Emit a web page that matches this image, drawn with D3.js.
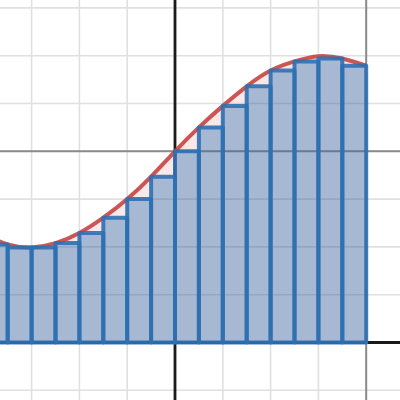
<!DOCTYPE html>
<html lang="en">

<head>
	<meta charset="UTF-8">
	<title>lower sum</title>
	<script src="https://cdn.jsdelivr.net/npm/d3@7/dist/d3.min.js" charset="UTF-8"></script>
	<style>
		html, body { margin: 0; padding: 0; background: #fff; }
		svg { display: block; }
	</style>
</head>

<body>
	<div id="chart"></div>

	<script type="text/javascript">
	// curve f(x) sampled every 0.5 from x = -4 to x = 4
	let curveX = [-4, -3.5, -3, -2.5, -2, -1.5, -1, -0.5, 0, 0.5, 1, 1.5, 2, 2.5, 3, 3.5, 4];
	let curveY = [2.27, 2.05, 1.99, 2.08, 2.29, 2.61, 3.0, 3.47, 4.0, 4.5, 4.95, 5.36, 5.69, 5.88, 5.99, 5.94, 5.79];

	// lower sum rectangles, left edge and height
	let barLeft = [-4, -3.5, -3, -2.5, -2, -1.5, -1, -0.5, 0, 0.5, 1, 1.5, 2, 2.5, 3, 3.5];
	let barHeight = [2.05, 1.99, 1.99, 2.08, 2.29, 2.61, 3.0, 3.47, 4.0, 4.5, 4.95, 5.36, 5.69, 5.88, 5.94, 5.79];
	let barWidth = 0.5;

	// gray reference lines x = 4 and y = 4
	let refX = [4];
	let refY = [4];

	let width = 400,
		height = 400,
		unit = 47.8,
		originX = 175,
		originY = 342.5;

	let x = d3.scaleLinear()
		.domain([-originX / unit, (width - originX) / unit])
		.range([0, width]);
	let y = d3.scaleLinear()
		.domain([-(height - originY) / unit, originY / unit])
		.range([height, 0]);

	let svg = d3.select('#chart')
		.append('svg')
		.attr('width', width)
		.attr('height', height);

	svg.append('rect')
		.attr('width', width)
		.attr('height', height)
		.attr('fill', '#fff');

	// grid
	let gx = d3.range(Math.ceil(x.domain()[0]), Math.floor(x.domain()[1]) + 1);
	let gy = d3.range(Math.ceil(y.domain()[0]), Math.floor(y.domain()[1]) + 1);

	svg.append('g').selectAll('line').data(gx).enter().append('line')
		.attr('x1', d => x(d)).attr('x2', d => x(d))
		.attr('y1', 0).attr('y2', height)
		.attr('stroke', '#e0e0e0')
		.attr('stroke-width', 1.6);
	svg.append('g').selectAll('line').data(gy).enter().append('line')
		.attr('y1', d => y(d)).attr('y2', d => y(d))
		.attr('x1', 0).attr('x2', width)
		.attr('stroke', '#e0e0e0')
		.attr('stroke-width', 1.6);

	// axes
	svg.append('line')
		.attr('x1', 0).attr('x2', width)
		.attr('y1', y(0)).attr('y2', y(0))
		.attr('stroke', '#1a1a1a')
		.attr('stroke-width', 2.8);
	svg.append('line')
		.attr('x1', x(0)).attr('x2', x(0))
		.attr('y1', 0).attr('y2', height)
		.attr('stroke', '#1a1a1a')
		.attr('stroke-width', 2.8);

	// reference lines
	svg.append('g').selectAll('line').data(refY).enter().append('line')
		.attr('y1', d => y(d)).attr('y2', d => y(d))
		.attr('x1', 0).attr('x2', width)
		.attr('stroke', '#8a8a8a')
		.attr('stroke-width', 2);
	svg.append('g').selectAll('line').data(refX).enter().append('line')
		.attr('x1', d => x(d)).attr('x2', d => x(d))
		.attr('y1', 0).attr('y2', height)
		.attr('stroke', '#8a8a8a')
		.attr('stroke-width', 2);

	let pts = curveX.map((d, i) => [d, curveY[i]]);

	// shaded area under the curve
	let area = d3.area()
		.curve(d3.curveNatural)
		.x(d => x(d[0]))
		.y0(y(0))
		.y1(d => y(d[1]));

	svg.append('path')
		.datum(pts)
		.attr('d', area)
		.attr('fill', '#c74440')
		.attr('fill-opacity', 0.12);

	// curve
	let line = d3.line()
		.curve(d3.curveNatural)
		.x(d => x(d[0]))
		.y(d => y(d[1]));

	svg.append('path')
		.datum(pts)
		.attr('d', line)
		.attr('fill', 'none')
		.attr('stroke', '#c74440')
		.attr('stroke-opacity', 0.9)
		.attr('stroke-width', 4);

	// rectangles
	svg.append('g').selectAll('rect').data(barLeft).enter().append('rect')
		.attr('x', d => x(d))
		.attr('y', (d, i) => y(barHeight[i]))
		.attr('width', x(barWidth) - x(0))
		.attr('height', (d, i) => y(0) - y(barHeight[i]))
		.attr('fill', '#2d70b3')
		.attr('fill-opacity', 0.4)
		.attr('stroke', '#2d70b3')
		.attr('stroke-opacity', 0.9)
		.attr('stroke-width', 4)
		.attr('stroke-linejoin', 'round');
	</script>
</body>

</html>
